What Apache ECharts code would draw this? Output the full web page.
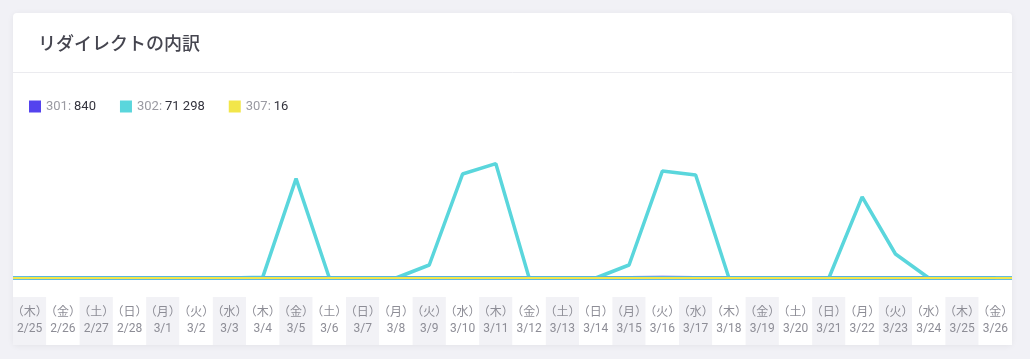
<!DOCTYPE html>
<html>
<head>
<meta charset="utf-8">
<script src="https://cdn.jsdelivr.net/npm/echarts@6/dist/echarts.min.js"></script>
<style>
html,body{margin:0;padding:0;background:#f1f1f6;}
#c{width:1030px;height:359px;}
</style>
</head>
<body>
<div id="c"></div>
<script>
const dates = ['2/25','2/26','2/27','2/28','3/1','3/2','3/3','3/4','3/5','3/6','3/7','3/8','3/9','3/10','3/11','3/12','3/13','3/14','3/15','3/16','3/17','3/18','3/19','3/20','3/21','3/22','3/23','3/24','3/25','3/26'];
const weekdays = ['木','金','土','日','月','火','水','木','金','土','日','月','火','水','木','金','土','日','月','火','水','木','金','土','日','月','火','水','木','金'];
const seriesNames = ['301','302','307'];
const legendTotals = ['840','71 298','16'];
const values301 = [31,24,22,20,27,25,30,26,38,19,18,23,34,40,39,21,17,22,36,41,37,20,19,24,35,33,27,22,38,32];
const values302 = [0,0,0,0,0,0,0,90,10738,0,0,0,1405,11240,12360,0,0,0,1405,11560,11135,0,0,0,0,8770,2595,0,0,0];
const values307 = [0,0,0,0,0,0,0,0,0,0,0,0,0,5,0,0,0,0,0,6,0,0,0,0,0,5,0,0,0,0];
const colors = ['#5443ee','#5ad6dc','#f2e64a'];

const chart = echarts.init(document.getElementById('c'), null, {renderer:'canvas'});
const totalsByName = {};
seriesNames.forEach((n,i)=>{ totalsByName[n] = legendTotals[i]; });

const baseLine = (color, width) => ({
  silent: true, symbol: ['none','none'], label: {show:false},
  lineStyle: {color: color, width: width, type: 'solid'},
  emphasis: {disabled: true},
  data: [{yAxis: 0}]
});

chart.setOption({
  animation: false,
  backgroundColor: '#f1f1f6',
  textStyle: {fontFamily: 'Roboto, "Noto Sans CJK JP", sans-serif'},
  graphic: [
    {type:'rect', z:-10, shape:{x:13,y:13,width:999,height:332,r:4},
     style:{fill:'#ffffff', shadowBlur:6, shadowColor:'rgba(0,0,0,0.06)', shadowOffsetY:1}},
    {type:'line', z:-9, shape:{x1:13,y1:72.5,x2:1012,y2:72.5}, style:{stroke:'#ebebef', lineWidth:1}}
  ],
  title: {
    text: 'リダイレクトの内訳', left: 33, top: 29,
    textStyle: {fontFamily:'"Noto Sans CJK JP", sans-serif', fontSize: 18, fontWeight: 500, color: '#45454f'}
  },
  legend: {
    left: 24, top: 95, itemWidth: 12, itemHeight: 12, itemGap: 24, icon: 'rect',
    selectedMode: false,
    data: seriesNames,
    formatter: name => '{a|' + name + ':} {b|' + totalsByName[name] + '}',
    textStyle: {
      rich: {
        a: {color:'#9a9aa2', fontSize: 13, fontFamily:'Roboto, sans-serif'},
        b: {color:'#33333d', fontSize: 13, fontFamily:'Roboto, sans-serif'}
      }
    }
  },
  grid: [
    {left: 13, right: 18, top: 130, bottom: 81},
    {left: 13, right: 18, top: 297, bottom: 14}
  ],
  xAxis: [
    {type:'category', gridIndex:0, data: dates, boundaryGap: true,
     axisLine:{show:false}, axisTick:{show:false}, splitLine:{show:false},
     axisLabel:{interval:0, margin: 27, lineHeight: 16, color:'#8d8d96', fontSize: 12,
       formatter: (v, i) => '（' + weekdays[i] + '）\n' + v}},
    {type:'category', gridIndex:1, data: dates, boundaryGap: true,
     axisLine:{show:false}, axisTick:{show:false}, axisLabel:{show:false},
     splitArea:{show:true, interval:0, areaStyle:{color:['#f2f2f6','#ffffff']}}}
  ],
  yAxis: [
    {type:'value', gridIndex:0, min:0, max:16000, show:false, splitLine:{show:false}},
    {type:'value', gridIndex:1, min:0, max:1, show:false, splitLine:{show:false}}
  ],
  series: [
    {name:'301', type:'line', data: values301, symbol:'none', color: colors[0],
     lineStyle:{width:3.5, color: colors[0]}, z: 2, markLine: baseLine(colors[0], 3.5)},
    {name:'302', type:'line', data: values302, symbol:'none', color: colors[1],
     lineStyle:{width:3.5, color: colors[1]}, z: 3, markLine: baseLine(colors[1], 3.5)},
    {name:'307', type:'line', data: values307, symbol:'none', color: colors[2],
     lineStyle:{width:2, color: colors[2]}, z: 4, markLine: baseLine(colors[2], 2)}
  ]
});
</script>
</body>
</html>
